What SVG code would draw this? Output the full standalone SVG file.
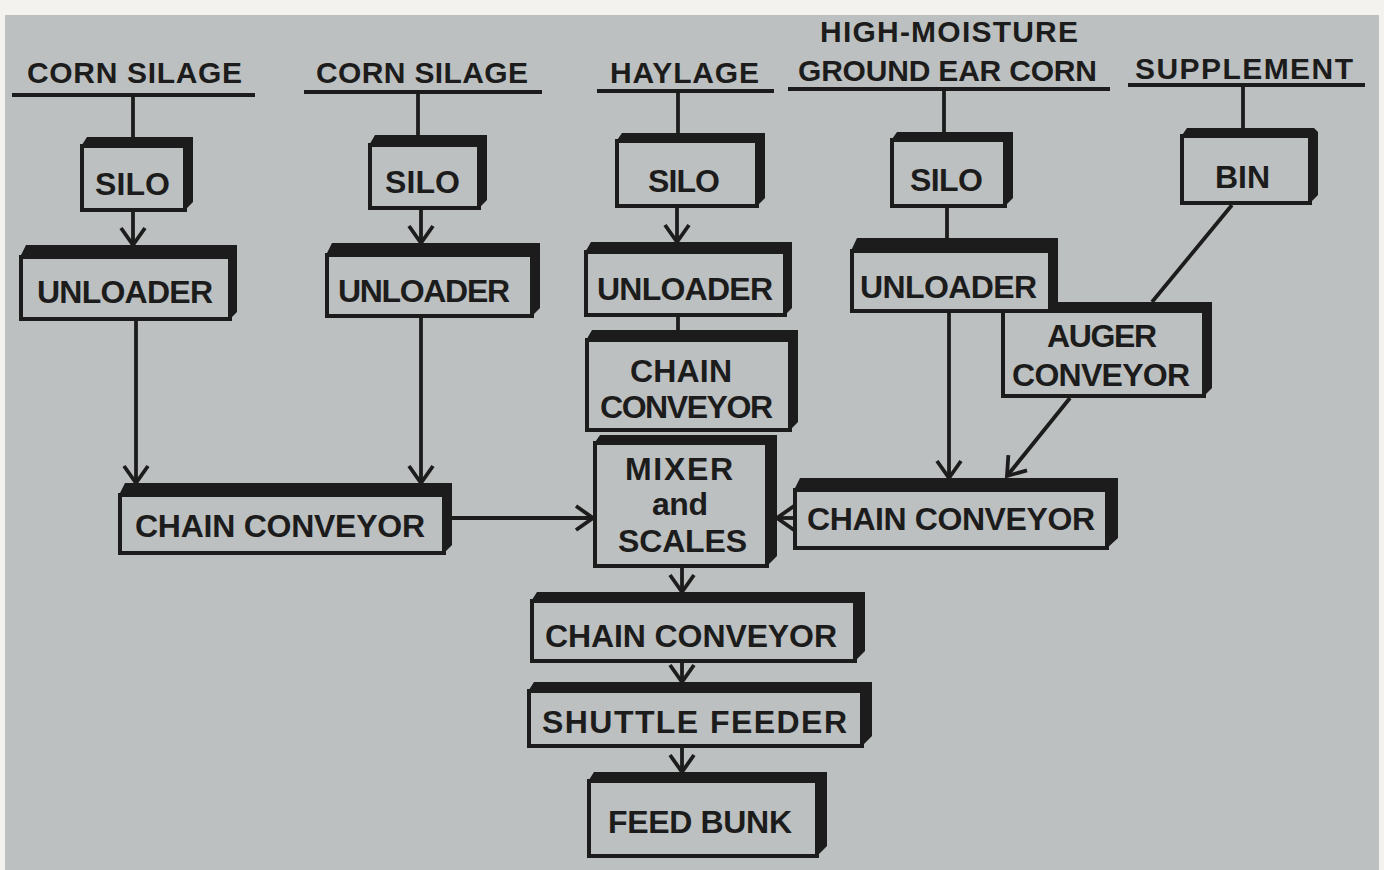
<svg xmlns="http://www.w3.org/2000/svg" width="1384" height="870" viewBox="0 0 1384 870">
<defs>
<style>
.bg{fill:#bdc0c0}
.band{fill:#1c1c1c}
.face{fill:#bdc0c0;stroke:#1c1c1c;stroke-width:4}
.t{font-family:"Liberation Sans",Arial,sans-serif;font-weight:bold;font-size:32px;fill:#1c1c1c}
.h{font-family:"Liberation Sans",Arial,sans-serif;font-weight:bold;font-size:30px;fill:#1c1c1c}
.ul{stroke:#1c1c1c;stroke-width:4;fill:none}
.c{stroke:#1c1c1c;stroke-width:3.8;fill:none}
</style>
<marker id="arr" markerUnits="userSpaceOnUse" markerWidth="40" markerHeight="40" viewBox="-20 -20 40 40" refX="0" refY="0" orient="auto" overflow="visible">
<path d="M-17,-12 L0,0 L-17,12" fill="none" stroke="#1c1c1c" stroke-width="3.8"/>
</marker>
</defs>
<rect width="1384" height="870" fill="#f4f2ee"/>
<rect class="bg" x="5" y="15" width="1374" height="855"/>

<g id="headers">
<text class="h" x="27" y="83" textLength="215" lengthAdjust="spacing">CORN SILAGE</text>
<line class="ul" x1="12" y1="95" x2="255" y2="95"/>
<text class="h" x="316" y="83" textLength="212" lengthAdjust="spacing">CORN SILAGE</text>
<line class="ul" x1="304" y1="92" x2="542" y2="92"/>
<text class="h" x="610" y="83" textLength="149" lengthAdjust="spacing">HAYLAGE</text>
<line class="ul" x1="597" y1="91" x2="774" y2="91"/>
<text class="h" x="820" y="42" textLength="258" lengthAdjust="spacing">HIGH-MOISTURE</text>
<text class="h" x="798" y="81" textLength="299" lengthAdjust="spacing">GROUND EAR CORN</text>
<line class="ul" x1="788" y1="89" x2="1110" y2="89"/>
<text class="h" x="1135" y="79" textLength="218" lengthAdjust="spacing">SUPPLEMENT</text>
<line class="ul" x1="1128" y1="85" x2="1365" y2="85"/>
</g>

<g id="connectors">
<line class="c" x1="133" y1="95" x2="133" y2="137"/>
<line class="c" x1="133" y1="212" x2="133" y2="245" marker-end="url(#arr)"/>
<line class="c" x1="136" y1="321" x2="136" y2="483" marker-end="url(#arr)"/>
<line class="c" x1="418" y1="92" x2="418" y2="135"/>
<line class="c" x1="421" y1="210" x2="421" y2="243" marker-end="url(#arr)"/>
<line class="c" x1="421" y1="318" x2="421" y2="483" marker-end="url(#arr)"/>
<line class="c" x1="678" y1="91" x2="678" y2="133"/>
<line class="c" x1="677" y1="208" x2="677" y2="242" marker-end="url(#arr)"/>
<line class="c" x1="678" y1="317" x2="678" y2="330"/>
<line class="c" x1="944" y1="89" x2="944" y2="132"/>
<line class="c" x1="947" y1="208" x2="947" y2="238"/>
<line class="c" x1="949" y1="313" x2="949" y2="478" marker-end="url(#arr)"/>
<line class="c" x1="1243" y1="85" x2="1243" y2="128"/>
<line class="c" x1="1232" y1="205" x2="1152" y2="302"/>
<line class="c" x1="1070" y1="398" x2="1007" y2="476" marker-end="url(#arr)"/>
<line class="c" x1="452" y1="518" x2="593" y2="518" marker-end="url(#arr)"/>
<line class="c" x1="793" y1="518" x2="777" y2="518" marker-end="url(#arr)"/>
<line class="c" x1="682" y1="568" x2="682" y2="592" marker-end="url(#arr)"/>
<line class="c" x1="682" y1="663" x2="682" y2="682" marker-end="url(#arr)"/>
<line class="c" x1="682" y1="748" x2="682" y2="772" marker-end="url(#arr)"/>
</g>

<g id="silo1">
<polygon class="band" points="80,148 87,137 193,137 193,202 183,212 183,148"/>
<rect class="face" x="82" y="146" width="103" height="64"/>
<text class="t" x="95" y="195" textLength="75" lengthAdjust="spacing">SILO</text>
</g>
<g id="unloader1">
<polygon class="band" points="19,259 26,245 237,245 237,312 228,321 228,259"/>
<rect class="face" x="21" y="257" width="209" height="62"/>
<text class="t" x="37" y="303" textLength="176" lengthAdjust="spacing">UNLOADER</text>
</g>
<g id="silo2">
<polygon class="band" points="368,147 375,135 487,135 487,200 477,210 477,147"/>
<rect class="face" x="370" y="145" width="109" height="63"/>
<text class="t" x="385" y="193" textLength="75" lengthAdjust="spacing">SILO</text>
</g>
<g id="unloader2">
<polygon class="band" points="325,257 332,243 540,243 540,308 530,318 530,257"/>
<rect class="face" x="327" y="255" width="205" height="61"/>
<text class="t" x="338" y="302" textLength="172" lengthAdjust="spacing">UNLOADER</text>
</g>
<g id="silo3">
<polygon class="band" points="615,143 622,133 765,133 765,198 755,208 755,143"/>
<rect class="face" x="617" y="141" width="140" height="65"/>
<text class="t" x="648" y="192" textLength="72" lengthAdjust="spacing">SILO</text>
</g>
<g id="unloader3">
<polygon class="band" points="584,254 591,242 792,242 792,308 783,317 783,254"/>
<rect class="face" x="586" y="252" width="199" height="63"/>
<text class="t" x="597" y="300" textLength="176" lengthAdjust="spacing">UNLOADER</text>
</g>
<g id="chain3">
<polygon class="band" points="585,342 592,330 798,330 798,422 788,432 788,342"/>
<rect class="face" x="587" y="340" width="203" height="90"/>
<text class="t" x="630" y="382" textLength="102" lengthAdjust="spacing">CHAIN</text>
<text class="t" x="600" y="418" textLength="173" lengthAdjust="spacing">CONVEYOR</text>
</g>
<g id="auger">
<polygon class="band" points="1001,313 1008,302 1212,302 1212,388 1202,398 1202,313"/>
<rect class="face" x="1003" y="311" width="201" height="85"/>
<text class="t" x="1047" y="347" textLength="110" lengthAdjust="spacing">AUGER</text>
<text class="t" x="1012" y="386" textLength="178" lengthAdjust="spacing">CONVEYOR</text>
</g>
<g id="silo4">
<polygon class="band" points="890,142 897,132 1013,132 1013,198 1003,208 1003,142"/>
<rect class="face" x="892" y="140" width="113" height="66"/>
<text class="t" x="910" y="191" textLength="73" lengthAdjust="spacing">SILO</text>
</g>
<g id="unloader4">
<polygon class="band" points="850,253 857,238 1058,238 1058,303 1048,313 1048,253"/>
<rect class="face" x="852" y="251" width="198" height="60"/>
<text class="t" x="860" y="298" textLength="177" lengthAdjust="spacing">UNLOADER</text>
</g>
<g id="bin">
<polygon class="band" points="1180,138 1187,128 1314,128 1318,132 1318,195 1308,205 1308,138"/>
<rect class="face" x="1182" y="136" width="128" height="67"/>
<text class="t" x="1215" y="188" textLength="55" lengthAdjust="spacing">BIN</text>
</g>
<g id="mixer">
<polygon class="band" points="593,445 600,435 777,435 777,556 765,568 765,445"/>
<rect class="face" x="595" y="443" width="172" height="123"/>
<text class="t" x="625" y="480" textLength="108" lengthAdjust="spacing">MIXER</text>
<text class="t" x="652" y="515" textLength="56" lengthAdjust="spacing">and</text>
<text class="t" x="618" y="552" textLength="129" lengthAdjust="spacing">SCALES</text>
</g>
<g id="chainL">
<polygon class="band" points="118,497 125,483 452,483 452,545 442,555 442,497"/>
<rect class="face" x="120" y="495" width="324" height="58"/>
<text class="t" x="135" y="537" textLength="290" lengthAdjust="spacing">CHAIN CONVEYOR</text>
</g>
<g id="chainR">
<polygon class="band" points="793,492 800,478 1118,478 1118,538 1105,550 1105,492"/>
<rect class="face" x="795" y="490" width="312" height="58"/>
<text class="t" x="807" y="530" textLength="288" lengthAdjust="spacing">CHAIN CONVEYOR</text>
</g>
<g id="chainB">
<polygon class="band" points="530,603 537,592 865,592 865,651 853,663 853,603"/>
<rect class="face" x="532" y="601" width="323" height="60"/>
<text class="t" x="545" y="647" textLength="292" lengthAdjust="spacing">CHAIN CONVEYOR</text>
</g>
<g id="shuttle">
<polygon class="band" points="527,693 534,682 872,682 872,736 860,748 860,693"/>
<rect class="face" x="529" y="691" width="333" height="55"/>
<text class="t" x="542" y="733" textLength="305" lengthAdjust="spacing">SHUTTLE FEEDER</text>
</g>
<g id="feedbunk">
<polygon class="band" points="587,783 594,772 827,772 827,846 815,858 815,783"/>
<rect class="face" x="589" y="781" width="228" height="75"/>
<text class="t" x="608" y="833" textLength="184" lengthAdjust="spacing">FEED BUNK</text>
</g>
</svg>
